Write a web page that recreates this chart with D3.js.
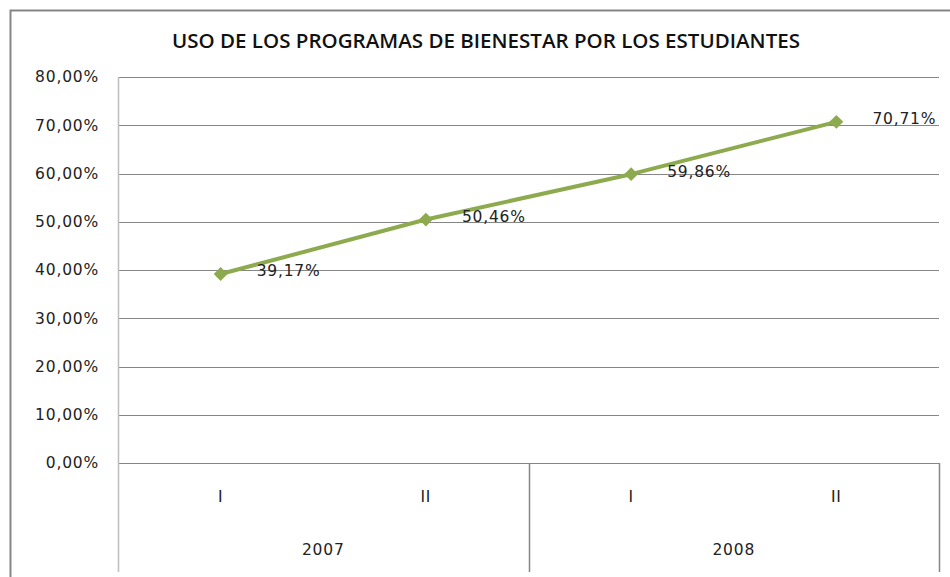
<!DOCTYPE html>
<html>
<head>
<meta charset="utf-8">
<script src="https://cdn.jsdelivr.net/npm/d3@7"></script>
<style>
  body { margin: 0; background: #fff; }
  svg { display: block; }
  .lbl { font-family: "DejaVu Sans", sans-serif; font-size: 15.5px; fill: #222; letter-spacing: 0.8px; }
</style>
</head>
<body>
<div id="chart"></div>
<script>
// data
var years = ['2007', '2008'];
var semesters = ['I', 'II', 'I', 'II'];
var categories = ['2007-I', '2007-II', '2008-I', '2008-II'];
var values = [39.17, 50.46, 59.86, 70.71];
var yTicks = [0, 10, 20, 30, 40, 50, 60, 70, 80];
var title = 'USO DE LOS PROGRAMAS DE BIENESTAR POR LOS ESTUDIANTES';

var width = 950, height = 577;
var margin = { left: 118, right: 11, top: 77, bottom: 114 };

var svg = d3.select('#chart').append('svg')
    .attr('width', width)
    .attr('height', height);

// chart border
svg.append('rect')
   .attr('x', 10.5).attr('y', 10.5)
   .attr('width', 980).attr('height', 620)
   .attr('fill', 'none')
   .attr('stroke', '#858585')
   .attr('stroke-width', 2);

svg.append('text')
   .attr('x', 486).attr('y', 48)
   .attr('text-anchor', 'middle')
   .attr('textLength', 628)
   .attr('lengthAdjust', 'spacingAndGlyphs')
   .style('font-family', '"Open Sans", sans-serif')
   .style('font-weight', '600')
   .style('font-size', '19px')
   .style('fill', '#111')
   .text(title);

var x = d3.scaleBand()
    .domain(categories)
    .range([margin.left, width - margin.right]);

var y = d3.scaleLinear()
    .domain([0, 80])
    .range([height - margin.bottom, margin.top]);

var y0 = y(0);
var axisBottom = 572;

// horizontal grid lines
svg.append('g')
   .selectAll('line')
   .data(yTicks.filter(function (d) { return d > 0; }))
   .enter()
   .append('line')
   .attr('x1', margin.left).attr('x2', width - margin.right)
   .attr('y1', function (d) { return Math.round(y(d)) + 0.5; })
   .attr('y2', function (d) { return Math.round(y(d)) + 0.5; })
   .attr('stroke', '#868686');

// y labels
svg.append('g')
   .selectAll('text')
   .data(yTicks)
   .enter()
   .append('text')
   .attr('class', 'lbl')
   .attr('x', 99)
   .attr('y', function (d) { return y(d); })
   .attr('dy', '0.35em')
   .attr('text-anchor', 'end')
   .text(function (d) { return d3.format('.2f')(d).replace('.', ',') + '%'; });

// category axis frame
svg.append('line')
   .attr('x1', margin.left).attr('x2', width - margin.right)
   .attr('y1', Math.round(y0) + 0.5).attr('y2', Math.round(y0) + 0.5)
   .attr('stroke', '#868686');

svg.append('line')
   .attr('x1', margin.left + 0.5).attr('x2', margin.left + 0.5)
   .attr('y1', margin.top).attr('y2', axisBottom)
   .attr('stroke', '#bdbdbd').attr('stroke-width', 1.5);

var groupEdges = [x(categories[2]), width - margin.right];
svg.append('g')
   .selectAll('line')
   .data(groupEdges)
   .enter()
   .append('line')
   .attr('x1', function (d) { return Math.round(d) + 0.5; })
   .attr('x2', function (d) { return Math.round(d) + 0.5; })
   .attr('y1', y0).attr('y2', axisBottom)
   .attr('stroke', '#868686').attr('stroke-width', 1.5);

// semester labels
svg.append('g')
   .selectAll('text')
   .data(semesters)
   .enter()
   .append('text')
   .attr('class', 'lbl')
   .attr('x', function (d, i) { return x(categories[i]) + x.bandwidth() / 2; })
   .attr('y', 497)
   .attr('dy', '0.35em')
   .attr('text-anchor', 'middle')
   .text(function (d) { return d; });

// year labels
svg.append('g')
   .selectAll('text')
   .data(years)
   .enter()
   .append('text')
   .attr('class', 'lbl')
   .attr('x', function (d, i) { return x(categories[i * 2]) + x.bandwidth(); })
   .attr('y', 550)
   .attr('dy', '0.35em')
   .attr('text-anchor', 'middle')
   .text(function (d) { return d; });

// series line
var line = d3.line()
    .x(function (d, i) { return x(categories[i]) + x.bandwidth() / 2; })
    .y(function (d) { return y(d); });

var green = '#8DAB4E';

svg.append('path')
   .datum(values)
   .attr('d', line)
   .attr('fill', 'none')
   .attr('stroke', green)
   .attr('stroke-width', 4)
   .attr('stroke-linejoin', 'round');

// diamond markers (rotated squares)
svg.append('g')
   .selectAll('path')
   .data(values)
   .enter()
   .append('path')
   .attr('d', d3.symbol().type(d3.symbolSquare).size(95))
   .attr('transform', function (d, i) {
       return 'translate(' + (x(categories[i]) + x.bandwidth() / 2) + ',' + y(d) + ') rotate(45)';
   })
   .attr('fill', green);

// data labels
svg.append('g')
   .selectAll('text')
   .data(values)
   .enter()
   .append('text')
   .attr('class', 'lbl')
   .attr('x', function (d, i) { return x(categories[i]) + x.bandwidth() / 2 + 36; })
   .attr('y', function (d) { return y(d) - 3; })
   .attr('dy', '0.35em')
   .text(function (d) { return d3.format('.2f')(d).replace('.', ',') + '%'; });
</script>
</body>
</html>
